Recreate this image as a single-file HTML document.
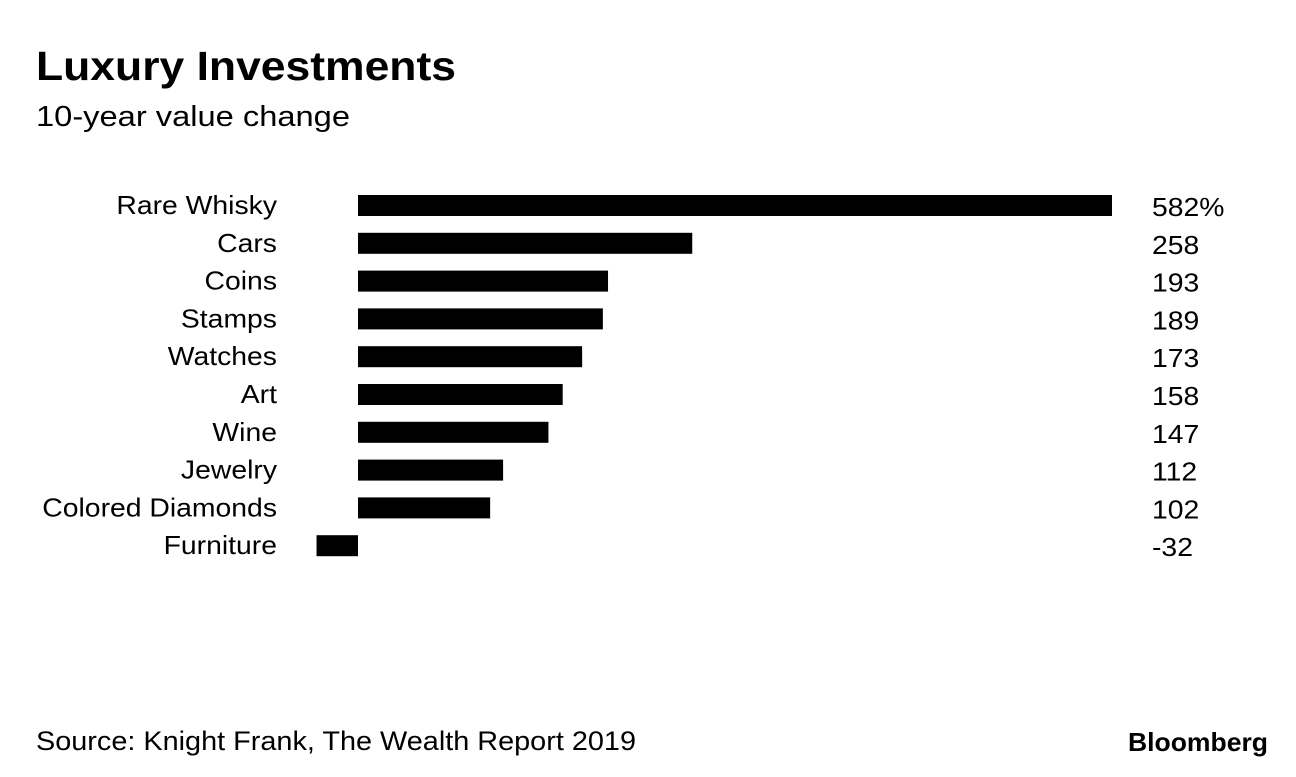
<!DOCTYPE html>
<html><head><meta charset="utf-8"><style>
body{margin:0;background:#fff;width:1296px;height:772px;overflow:hidden;font-family:"Liberation Sans",sans-serif;}
svg text{font-family:"Liberation Sans",sans-serif;}
</style></head><body>
<svg id="chart" width="1296" height="772" xmlns="http://www.w3.org/2000/svg">
<text x="36" y="80" font-size="41" font-weight="bold" textLength="420" lengthAdjust="spacingAndGlyphs">Luxury Investments</text>
<text x="36" y="126" font-size="29" textLength="314" lengthAdjust="spacingAndGlyphs">10-year value change</text>
<text x="36" y="750" font-size="27" textLength="600" lengthAdjust="spacingAndGlyphs">Source: Knight Frank, The Wealth Report 2019</text>
<text x="1128" y="751" font-size="26" font-weight="bold" textLength="140" lengthAdjust="spacingAndGlyphs">Bloomberg</text>
<g id="bars"></g>
</svg>
<script>
const categories=["Rare Whisky","Cars","Coins","Stamps","Watches","Art","Wine","Jewelry","Colored Diamonds","Furniture"];
const values=[582,258,193,189,173,158,147,112,102,-32];
const valueLabels=["582%","258","193","189","173","158","147","112","102","-32"];
const x0=358, scaleX=754/582, topY=195, pitch=37.8, bh=21;
function xs(v){return x0+v*scaleX;}
function ys(i){return topY+i*pitch;}
const g=document.getElementById('bars');
const NS="http://www.w3.org/2000/svg";
categories.forEach((c,i)=>{
  const v=values[i];
  const r=document.createElementNS(NS,'rect');
  
  
  r.setAttribute('x',Math.min(xs(0),xs(v)));
  r.setAttribute('y',ys(i));
  r.setAttribute('width',Math.abs(xs(v)-xs(0)));
  r.setAttribute('height',bh);
  r.setAttribute('fill','#000');
  g.appendChild(r);
  const t=document.createElementNS(NS,'text');
  
  
  t.setAttribute('x',277);t.setAttribute('y',ys(i)+19);
  t.setAttribute('font-size','26');t.setAttribute('text-anchor','end');
  t.textContent=c;g.appendChild(t);
  const w=t.getComputedTextLength();
  if(w>0){t.setAttribute('textLength',w*1.09);t.setAttribute('lengthAdjust','spacingAndGlyphs');}
  const l=document.createElementNS(NS,'text');
  
  
  l.setAttribute('x',1152);l.setAttribute('y',ys(i)+21);
  l.setAttribute('font-size','26');
  l.textContent=valueLabels[i];g.appendChild(l);
  const w2=l.getComputedTextLength();
  if(w2>0){l.setAttribute('textLength',w2*1.09);l.setAttribute('lengthAdjust','spacingAndGlyphs');}
});
</script>
</body></html>
